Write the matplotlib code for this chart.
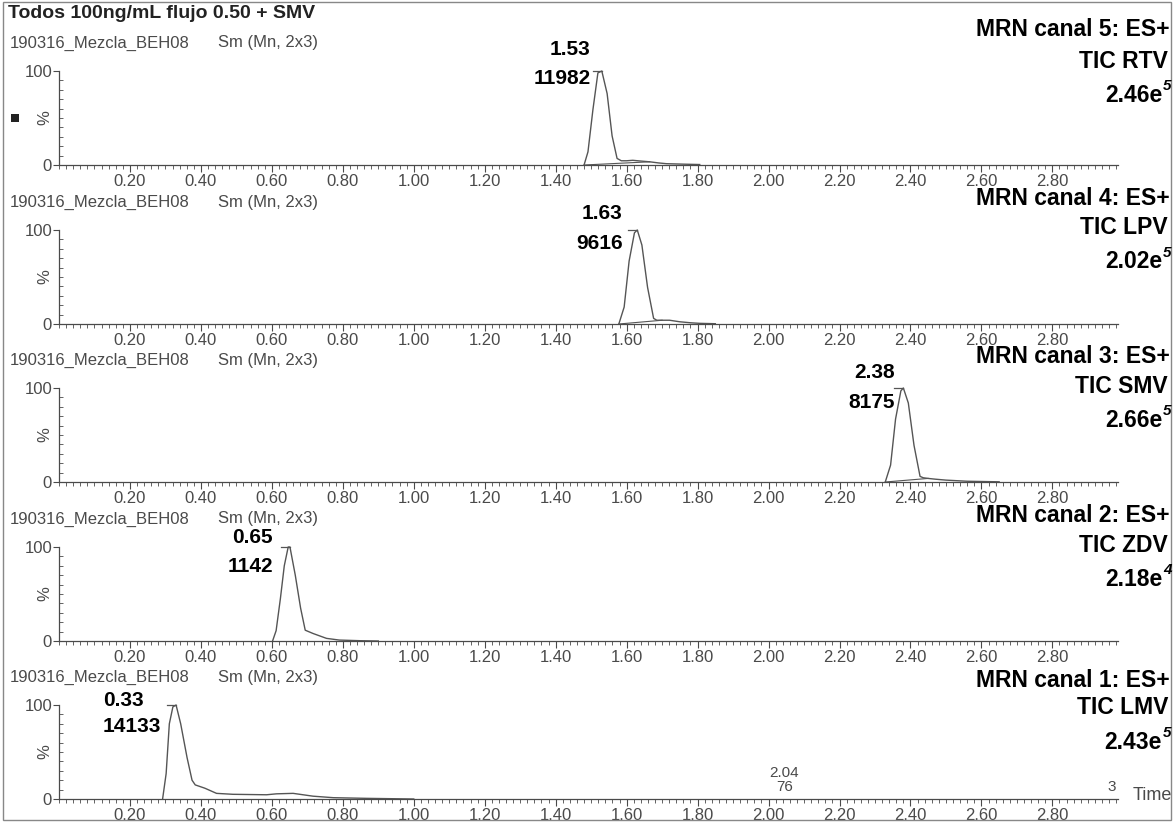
import matplotlib
matplotlib.use("Agg")
import matplotlib.pyplot as plt
from matplotlib.ticker import MultipleLocator
from matplotlib.patches import Rectangle
import numpy as np

plt.rcParams["font.family"] = ["Liberation Sans", "DejaVu Sans"]

W, H = 1173, 822

title = "Todos 100ng/mL flujo 0.50 + SMV"
sample = "190316_Mezcla_BEH08"
smoothing = "Sm (Mn, 2x3)"

# one panel per MRM channel, top to bottom
channels = [5, 4, 3, 2, 1]
compounds = ["RTV", "LPV", "SMV", "ZDV", "LMV"]
tic_max = ["2.46", "2.02", "2.66", "2.18", "2.43"]
tic_exp = ["5", "5", "5", "4", "5"]
peak_rt = [1.53, 1.63, 2.38, 0.65, 0.33]
peak_area = [11982, 9616, 8175, 1142, 14133]

# chromatogram traces: time (min) / relative intensity (%)
rtv_t = [1.480, 1.491, 1.505, 1.519, 1.530, 1.545, 1.559, 1.573, 1.585, 1.600, 1.617, 1.640, 1.665, 1.690, 1.712, 1.760, 1.806]
rtv_y = [0, 14, 59, 98, 100, 76, 31, 7, 4.5, 4.5, 5, 4.2, 3.4, 2.2, 1.4, 0.9, 0.5]
lpv_t = [1.578, 1.593, 1.607, 1.622, 1.630, 1.643, 1.659, 1.676, 1.685, 1.700, 1.721, 1.749, 1.780, 1.806, 1.850]
lpv_y = [0, 18, 67, 97, 100, 84, 39, 6, 4, 4, 4, 2.4, 1.3, 0.7, 0.3]
smv_t = [2.329, 2.344, 2.358, 2.373, 2.380, 2.394, 2.410, 2.427, 2.436, 2.450, 2.470, 2.500, 2.560, 2.650]
smv_y = [0, 18, 67, 97, 100, 84, 39, 6, 4.5, 3.8, 3, 2, 0.8, 0.2]
zdv_t = [0.602, 0.612, 0.624, 0.635, 0.646, 0.651, 0.666, 0.681, 0.694, 0.716, 0.754, 0.790, 0.850, 0.900]
zdv_y = [0, 11, 45, 80, 100, 100, 70, 35, 11.5, 8, 2.8, 1, 0.3, 0]
lmv_t = [0.292, 0.302, 0.311, 0.321, 0.330, 0.343, 0.361, 0.375, 0.384, 0.411, 0.444, 0.490, 0.585, 0.613, 0.660, 0.688, 0.716, 0.773, 0.866, 1.000]
lmv_y = [0, 27, 80, 98, 100, 80, 44, 20, 15, 11.5, 6, 5, 4.5, 5.5, 6, 4.5, 3, 1.4, 0.7, 0]
traces = [(rtv_t, rtv_y), (lpv_t, lpv_y), (smv_t, smv_y), (zdv_t, zdv_y), (lmv_t, lmv_y)]

# integration baselines drawn under the peaks
rtv_base_t = [1.480, 1.665]
rtv_base_y = [0, 3.4]
lpv_base_t = [1.578, 1.700]
lpv_base_y = [0, 4]
smv_base_t = [2.329, 2.450]
smv_base_y = [0, 3.8]
baselines = [(rtv_base_t, rtv_base_y), (lpv_base_t, lpv_base_y), (smv_base_t, smv_base_y), None, None]

# small secondary annotation in channel 1
minor_rt = 2.04
minor_area = 76

# label placement
label_x = [1.499, 1.589, 2.357, 0.603, 0.124]
label_ha = ["right", "right", "right", "right", "left"]
label_y_rt = [123, 118, 116, 110, 105]
label_y_area = [92, 86, 85, 79, 77]

baseline_px = [165, 324, 482, 641, 799]
# vertical offsets (px above the baseline) of the three channel text lines
chan_off = [(135, 104, 70), (126, 96, 62), (126, 96, 62), (126, 96, 62), (119, 92, 57)]
panel_h = 94
left_px, right_px = 59, 1118

GREY = "#4a4a4a"


def fx(px):
    return px / W


def fy(py):
    return 1 - py / H


fig = plt.figure(figsize=(W / 100, H / 100), dpi=100)
fig.patch.set_facecolor("white")

fig.add_artist(Rectangle((fx(3), fy(820)), fx(1171) - fx(3), fy(2) - fy(820),
                         transform=fig.transFigure, fill=False, ec="#888888", lw=1))

fig.text(fx(8), fy(13), title, fontsize=14, fontweight="bold", color="#222222",
         ha="left", va="center")

for i, b in enumerate(baseline_px):
    ax = fig.add_axes([fx(left_px), fy(b), fx(right_px) - fx(left_px), panel_h / H])
    ax.set_xlim(0, 2.985)
    ax.set_ylim(0, 100)
    for s in ["top", "right"]:
        ax.spines[s].set_visible(False)
    for s in ["left", "bottom"]:
        ax.spines[s].set_color(GREY)
        ax.spines[s].set_linewidth(0.9)
    ax.patch.set_alpha(0)

    ticks = np.round(np.arange(0.2, 2.81, 0.2), 2)
    ax.set_xticks(ticks)
    ax.set_xticklabels([f"{v:.2f}" for v in ticks])
    ax.xaxis.set_minor_locator(MultipleLocator(0.02))
    ax.set_yticks([0, 100])
    ax.set_yticklabels(["0", "100"])
    ax.yaxis.set_minor_locator(MultipleLocator(10))
    ax.tick_params(axis="x", which="major", direction="out", length=5, width=0.8,
                   color=GREY, labelcolor=GREY, labelsize=12, pad=1.5)
    ax.tick_params(axis="x", which="minor", direction="out", length=3, width=0.6, color=GREY)
    ax.tick_params(axis="y", which="major", direction="out", length=4, width=0.8,
                   color=GREY, labelcolor=GREY, labelsize=12, pad=1)
    ax.tick_params(axis="y", which="minor", direction="in", length=3, width=0.6, color=GREY)

    t, y = traces[i]
    ax.plot(t, y, color="#555555", lw=1.0, clip_on=False)
    if baselines[i] is not None:
        bt, by = baselines[i]
        ax.plot(bt, by, color="#555555", lw=0.8, clip_on=False)
    # leader at the apex
    ax.plot([peak_rt[i] - 0.025, peak_rt[i]], [100, 100], color="#555555", lw=0.9, clip_on=False)

    ax.text(label_x[i], label_y_rt[i], f"{peak_rt[i]:.2f}", fontsize=15, fontweight="bold",
            ha=label_ha[i], va="center", clip_on=False)
    ax.text(label_x[i], label_y_area[i], f"{peak_area[i]}", fontsize=15, fontweight="bold",
            ha=label_ha[i], va="center", clip_on=False)

    # run header
    fig.text(fx(10), fy(b - 122), sample, fontsize=12, color=GREY, ha="left", va="center")
    fig.text(fx(218), fy(b - 122), smoothing, fontsize=12, color=GREY, ha="left", va="center")
    fig.text(fx(45), fy(b - 47), "%", fontsize=12, color=GREY, rotation=90,
             ha="center", va="center")

    # channel description
    o1, o2, o3 = chan_off[i]
    fig.text(fx(1170), fy(b - o1), f"MRN canal {channels[i]}: ES+", fontsize=16.5,
             fontweight="bold", ha="right", va="center")
    fig.text(fx(1168), fy(b - o2), f"TIC {compounds[i]}", fontsize=16.5,
             fontweight="bold", ha="right", va="center")
    fig.text(fx(1162), fy(b - o3), f"{tic_max[i]}e", fontsize=16.5,
             fontweight="bold", ha="right", va="center")
    fig.text(fx(1163), fy(b - o3 - 9), tic_exp[i], fontsize=11, fontweight="bold",
             style="italic", ha="left", va="center")

    if i == 0:
        fig.add_artist(Rectangle((fx(11), fy(122)), 8 / W, 8 / H, transform=fig.transFigure,
                                 fc="#222222", ec="none"))

    if i == len(baseline_px) - 1:
        ax.text(minor_rt + 0.005, 28, f"{minor_rt:.2f}", fontsize=11, color=GREY,
                ha="center", va="center", clip_on=False)
        ax.text(minor_rt + 0.005, 12.5, f"{minor_area}", fontsize=11, color=GREY,
                ha="center", va="center", clip_on=False)
        fig.text(fx(1112), fy(787), "3", fontsize=11, color=GREY, ha="center", va="center")
        fig.text(fx(1133), fy(795), "Time", fontsize=13, color=GREY, ha="left", va="center")

fig.savefig("out.png", dpi=100)
